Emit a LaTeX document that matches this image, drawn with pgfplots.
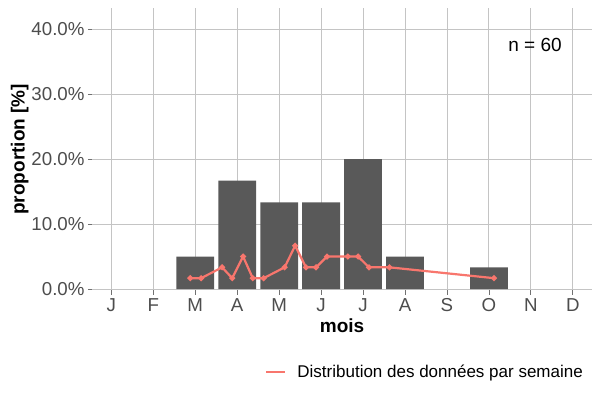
\documentclass[border=0pt]{standalone}
\usepackage{pgfplots}
\pgfplotsset{compat=1.18}
\usepackage{fontspec}
\setmainfont{Liberation Sans}
\definecolor{bargrey}{HTML}{595959}
\definecolor{gridc}{HTML}{C4C4C4}
\definecolor{tickc}{HTML}{4D4D4D}
\definecolor{salmon}{HTML}{F8766D}
\begin{document}
\begin{tikzpicture}
\path[use as bounding box] (-92.5bp,-109.7bp) rectangle (507.5bp,290.3bp);
\begin{axis}[
  at={(0,0)}, anchor=south west,
  scale only axis,
  width=499.2bp, height=282bp,
  xmin=0.55, xmax=12.45,
  ymin=-0.2, ymax=43.2,
  xtick={1,2,3,4,5,6,7,8,9,10,11,12},
  xticklabels={J,F,M,A,M,J,J,A,S,O,N,D},
  ytick={0,10,20,30,40},
  yticklabels={0.0\%,10.0\%,20.0\%,30.0\%,40.0\%},
  /pgf/number format/assume math mode=true,
  axis line style={draw=none},
  tick pos=left, tick align=outside,
  major tick length=4.5bp,
  tick style={color=tickc!80, line width=0.8bp},
  xmajorgrids, ymajorgrids,
  major grid style={color=gridc, line width=0.9bp},
  ticklabel style={font=\fontsize{18.7bp}{21bp}\selectfont, text=tickc},
  xlabel={\textbf{mois}},
  ylabel={\textbf{proportion [\%]}},
  ylabel shift=-4bp,
  label style={font=\fontsize{19bp}{22bp}\selectfont},
  legend style={draw=none, fill=none, at={(0.9826,-0.29)}, anchor=east,
    inner sep=0pt, font=\fontsize{17bp}{20bp}\selectfont,
    nodes={inner sep=0pt}, column sep=0pt},
  legend image code/.code={\draw[salmon, line width=2.2bp] (0bp,0bp) -- (19bp,0bp); \path (30bp,0bp);},
  legend cell align=left,
]
\addplot[ybar, bar width=0.9, fill=bargrey, draw=none, forget plot] coordinates {
 (3,5) (4,16.667) (5,13.333) (6,13.333) (7,20) (8,5) (10,3.333)
};
\addplot[salmon, line width=2.2bp, mark=*, mark size=1.7bp,
  mark options={fill=red, draw=none}] coordinates {
 (2.88,1.667) (3.14,1.667) (3.64,3.333) (3.88,1.667) (4.14,5) (4.37,1.667)
 (4.63,1.667) (5.13,3.333) (5.38,6.667) (5.64,3.333) (5.88,3.333) (6.14,5)
 (6.64,5) (6.88,5) (7.14,3.333) (7.63,3.333) (10.12,1.667)
};
\addlegendentry{Distribution des données par semaine}
\node[font=\fontsize{19bp}{22bp}\selectfont] at (axis cs:11.1,37.5) {n = 60};
\end{axis}
\end{tikzpicture}
\end{document}
